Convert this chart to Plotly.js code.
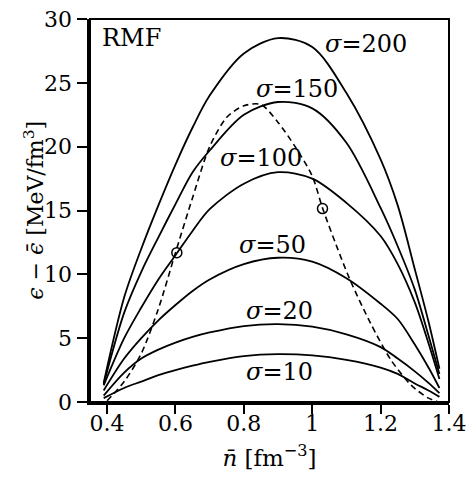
<!DOCTYPE html>
<html>
<head>
<meta charset="utf-8">
<script src="https://cdn.plot.ly/plotly-3.0.1.min.js"></script>
<style>html,body{margin:0;padding:0;background:#fff;}#chart{width:472px;height:478px;}</style>
</head>
<body>
<div id="chart"></div>
<script>
// density grid [fm^-3]
const nGrid = [0.39, 0.45, 0.5, 0.55, 0.6, 0.65, 0.7, 0.8, 0.9, 1.0, 1.1, 1.2, 1.25, 1.3, 1.34, 1.372];
// energy difference curves [MeV/fm^3] for each sigma
const sigma10  = [0.3, 1.1, 1.6, 2.1, 2.5, 2.85, 3.15, 3.6, 3.75, 3.65, 3.3, 2.7, 2.2, 1.45, 0.9, 0.4];
const sigma20  = [0.5, 2.3, 3.4, 4.1, 4.65, 5.1, 5.45, 5.95, 6.1, 5.9, 5.3, 4.3, 3.4, 2.4, 1.5, 0.7];
const sigma50  = [0.9, 3.4, 5.0, 6.4, 7.6, 8.7, 9.6, 10.8, 11.3, 11.0, 9.7, 7.7, 6.5, 4.5, 2.7, 1.1];
const sigma100 = [1.3, 5.0, 7.4, 9.6, 11.5, 13.4, 15.1, 17.1, 18.0, 17.5, 15.6, 13.0, 10.8, 7.8, 4.6, 1.8];
const sigma150 = [1.4, 7.0, 10.2, 12.9, 15.5, 18.0, 19.7, 22.5, 23.5, 23.0, 20.3, 15.2, 12.2, 8.8, 5.2, 2.2];
const sigma200 = [1.5, 8.2, 12.0, 15.4, 18.6, 21.5, 24.0, 27.3, 28.5, 27.8, 24.2, 19.0, 15.4, 10.4, 6.3, 2.6];
// dashed envelope curve
const dashN = [0.4, 0.45, 0.5, 0.55, 0.6, 0.65, 0.7, 0.75, 0.8, 0.85, 0.9, 0.95, 1.0, 1.03, 1.07, 1.11, 1.17, 1.23, 1.29, 1.34, 1.365];
const dashE = [0.1, 1.6, 3.8, 7.3, 11.7, 16.0, 20.0, 22.3, 23.2, 23.3, 21.9, 20.0, 17.7, 15.2, 12.3, 9.6, 6.2, 3.3, 1.3, 0.3, 0.05];
// circle markers
const circN = [0.604, 1.03];
const circE = [11.7, 15.15];
// labels
const labelText = ['<i>σ</i>=200', '<i>σ</i>=150', '<i>σ</i>=100', '<i>σ</i>=50', '<i>σ</i>=20', '<i>σ</i>=10'];
const labelN = [1.031, 0.829, 0.724, 0.78, 0.80, 0.80];
const labelE = [28.05, 24.5, 19.1, 12.3, 7.15, 2.36];
const xTicks = [0.4, 0.6, 0.8, 1, 1.2, 1.4];
const xTickText = ['0.4', '0.6', '0.8', '1', '1.2', '1.4'];
const yTicks = [0, 5, 10, 15, 20, 25, 30];
const xTitle = '<i>n̄</i> [fm<sup>−3</sup>]';
const yTitle = '<i>ϵ</i> − <i>ϵ̄</i> [MeV/fm<sup>3</sup>]';

const FONT = 'DejaVu Serif';
const curves = [sigma10, sigma20, sigma50, sigma100, sigma150, sigma200];
const traces = curves.map(c => ({
  x: nGrid, y: c, mode: 'lines', type: 'scatter',
  line: {color: '#000', width: 1.8, shape: 'spline', smoothing: 0.9},
  hoverinfo: 'skip', showlegend: false
}));
traces.push({
  x: dashN, y: dashE, mode: 'lines', type: 'scatter',
  line: {color: '#000', width: 1.6, dash: '6px,4px', shape: 'spline', smoothing: 0.8},
  showlegend: false
});
traces.push({
  x: circN, y: circE, mode: 'markers', type: 'scatter',
  marker: {symbol: 'circle-open', size: 10, color: '#000', line: {width: 1.5, color: '#000'}},
  showlegend: false
});

const annotations = labelText.map((t, i) => ({
  x: labelN[i], y: labelE[i], xref: 'x', yref: 'y', text: t, showarrow: false,
  xanchor: 'left', yanchor: 'middle', font: {family: FONT, size: 24, color: '#000'}
}));
annotations.push({
  x: 0.38, y: 28.5, xref: 'x', yref: 'y', text: 'RMF', showarrow: false,
  xanchor: 'left', yanchor: 'middle', font: {family: FONT, size: 24, color: '#000'}
});
annotations.push({
  x: -0.158, y: 0.5, xref: 'paper', yref: 'paper', text: yTitle, showarrow: false,
  textangle: -90, xanchor: 'center', yanchor: 'middle', font: {family: FONT, size: 22, color: '#000'}
});

const layout = {
  width: 472, height: 478,
  margin: {l: 90, r: 23, t: 19, b: 76},
  paper_bgcolor: '#fff', plot_bgcolor: '#fff',
  font: {family: FONT, color: '#000', size: 22},
  xaxis: {
    range: [0.35, 1.4], tickvals: xTicks, ticktext: xTickText,
    ticks: 'outside', ticklen: 9, tickwidth: 2, tickcolor: '#000',
    ticklabelstandoff: -9,
    showline: true, linewidth: 3, linecolor: '#000', mirror: false,
    showgrid: false, zeroline: false,
    tickfont: {family: FONT, size: 22, color: '#000'},
    title: {text: xTitle, font: {family: FONT, size: 23, color: '#000'}, standoff: 15}
  },
  yaxis: {
    range: [0, 30], tickvals: yTicks,
    ticks: 'outside', ticklen: 10, tickwidth: 2, tickcolor: '#000',
    showline: true, linewidth: 3.5, linecolor: '#000', mirror: false,
    showgrid: false, zeroline: false,
    tickfont: {family: FONT, size: 22, color: '#000'}
  },
  shapes: [{type: 'rect', xref: 'paper', yref: 'paper', x0: 0, x1: 1, y0: 0, y1: 1,
    line: {color: '#000', width: 2}, layer: 'above'}],
  annotations: annotations
};

Plotly.newPlot('chart', traces, layout, {staticPlot: true, displayModeBar: false});
</script>
</body>
</html>
